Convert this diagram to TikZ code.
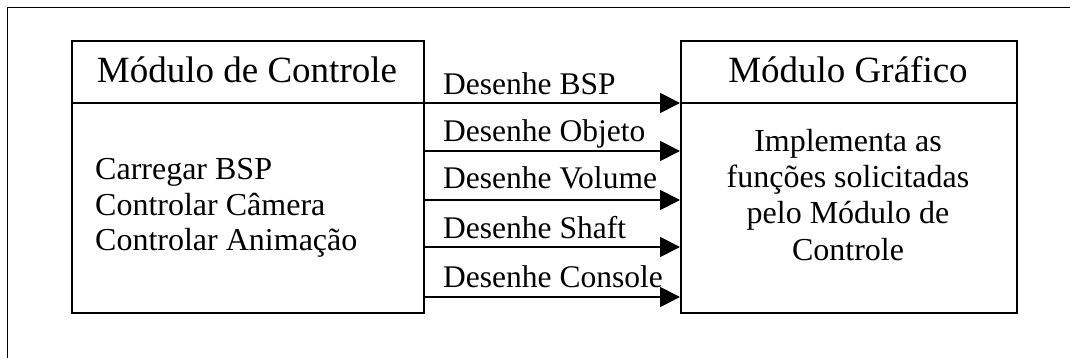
\documentclass[tikz,border=0pt]{standalone}
\usepackage{fontspec}
\setmainfont{Liberation Serif}
\usetikzlibrary{arrows.meta}
\tikzset{
  box/.style={draw, line width=1.8pt, rectangle, inner sep=0pt, anchor=north west},
  frame/.style={line width=1.8pt},
  arr/.style={line width=1.8pt, -{Triangle[length=20pt,width=20pt]}},
  head/.style={font=\fontsize{37}{40}\selectfont, anchor=base, inner sep=0pt},
  body/.style={font=\fontsize{32}{36}\selectfont, inner sep=0pt},
  lbl/.style={font=\fontsize{31.5}{34}\selectfont, anchor=base west, inner sep=0pt},
}
\begin{document}
\begin{tikzpicture}[x=1pt,y=-1pt]
\useasboundingbox (0,0) rectangle (1070,358);
\draw[frame] (7.5,360) -- (7.5,7.5) -- (1072,7.5);
% boxes
\node[box, minimum width=352pt, minimum height=272pt] (lbox) at (71,40) {};
\node[box, minimum width=336pt, minimum height=272pt] (rbox) at (680,40) {};
\draw[frame] (lbox.west |- 0,103) -- (lbox.east |- 0,103);
\draw[frame] (rbox.west |- 0,103) -- (rbox.east |- 0,103);
% headers
\node[head] (lhead) at (247,83) {Módulo de Controle};
\node[head] (rhead) at (848,83) {Módulo Gráfico};
% left body
\node[body, anchor=base west] (l1) at (95,179) {Carregar BSP};
\node[body, anchor=base west] (l2) at (95,215) {Controlar Câmera};
\node[body, anchor=base west] (l3) at (95,250) {Controlar Animação};
% right body
\node[body, anchor=base] (r1) at (848,152) {Implementa as};
\node[body, anchor=base] (r2) at (848,187) {funções solicitadas};
\node[body, anchor=base] (r3) at (848,223) {pelo Módulo de};
\node[body, anchor=base] (r4) at (848,260) {Controle};
% arrows
\draw[arr] (lbox.east |- 0,103) -- (rbox.west |- 0,103);
\draw[arr] (lbox.east |- 0,151) -- (rbox.west |- 0,151);
\draw[arr] (lbox.east |- 0,200) -- (rbox.west |- 0,200);
\draw[arr] (lbox.east |- 0,247) -- (rbox.west |- 0,247);
\draw[arr] (lbox.east |- 0,297) -- (rbox.west |- 0,297);
% labels
\node[lbl] (a1) at (443,95) {Desenhe BSP};
\node[lbl] (a2) at (443,142) {Desenhe Objeto};
\node[lbl] (a3) at (443,189) {Desenhe Volume};
\node[lbl] (a4) at (443,238) {Desenhe Shaft};
\node[lbl] (a5) at (443,287) {Desenhe Console};
\end{tikzpicture}
\end{document}
